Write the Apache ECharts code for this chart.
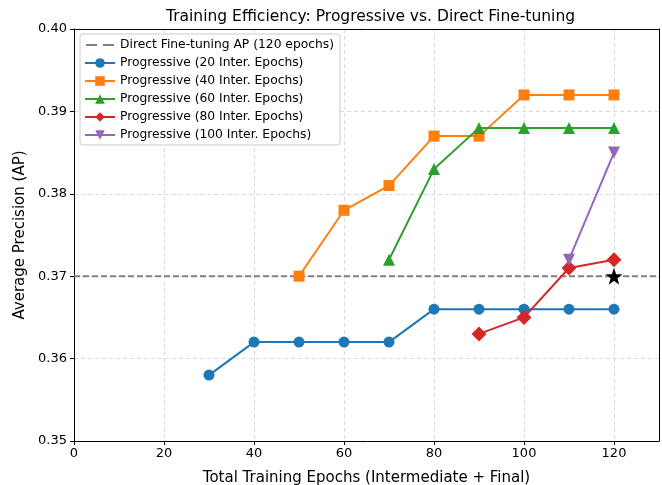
<!DOCTYPE html>
<html><head><meta charset="utf-8">
<script src="https://cdn.jsdelivr.net/npm/echarts@6/dist/echarts.min.js"></script>
<style>html,body{margin:0;padding:0;background:#fff}#c{width:662px;height:485px}</style>
</head><body><div id="c"></div>
<script>
const seriesNames = ['Progressive (20 Inter. Epochs)','Progressive (40 Inter. Epochs)','Progressive (60 Inter. Epochs)','Progressive (80 Inter. Epochs)','Progressive (100 Inter. Epochs)'];
const x20 = [30,40,50,60,70,80,90,100,110,120];
const y20 = [0.358,0.362,0.362,0.362,0.362,0.366,0.366,0.366,0.366,0.366];
const x40 = [50,60,70,80,90,100,110,120];
const y40 = [0.370,0.378,0.381,0.387,0.387,0.392,0.392,0.392];
const x60 = [70,80,90,100,110,120];
const y60 = [0.372,0.383,0.388,0.388,0.388,0.388];
const x80 = [90,100,110,120];
const y80 = [0.363,0.365,0.371,0.372];
const x100 = [110,120];
const y100 = [0.372,0.385];
const directName = 'Direct Fine-tuning AP (120 epochs)';
const directAP = 0.370;
const directX = [0,130];
const starPoint = [120,0.370];
const xTicks = [0,20,40,60,80,100,120];

const colors = ['#1f77b4','#ff7f0e','#2ca02c','#d62728','#9467bd'];
const symbols = ['circle','rect','triangle','diamond','triangle'];
const sizes = [11,11,12,15,12];
const rots = [0,0,0,0,180];
const xs=[x20,x40,x60,x80,x100], ys=[y20,y40,y60,y80,y100];
const font='DejaVu Sans';
const starPath='path://M50,0 L61.8,35.1 L97.6,34.5 L69.1,56.7 L79.4,90.5 L50,70 L20.6,90.5 L30.9,56.7 L2.4,34.5 L38.2,35.1 Z';
const dashIcon='path://M0,0 L0,0.01 L0.01,0 Z M30,12 L30,11.99 L29.99,12 Z M1,5 L12,5 L12,7 L1,7 Z M18,5 L29,5 L29,7 L18,7 Z';

const series=[{
  name: directName, type:'line', data: directX.map(x=>[x,directAP]), showSymbol:false, symbol:'none',
  lineStyle:{color:'#808080',width:2,type:[6,3]}, itemStyle:{color:'#808080'}, z:1, silent:true
}];
for(let i=0;i<5;i++){
  series.push({name:seriesNames[i],type:'line',data:xs[i].map((x,j)=>[x,ys[i][j]]),
    symbol:symbols[i],symbolSize:sizes[i],symbolRotate:rots[i],
    lineStyle:{color:colors[i],width:2},itemStyle:{color:colors[i]},z:3});
}
series.push({name:'star',type:'scatter',data:[starPoint],symbol:starPath,symbolSize:17,itemStyle:{color:'#000',opacity:1},z:5});

const frameAxis={axisLine:{show:true,onZero:false,lineStyle:{color:'#000',width:1}},axisTick:{show:false},axisLabel:{show:false},splitLine:{show:false}};
const chart=echarts.init(document.getElementById('c'),null,{renderer:'canvas'});
chart.setOption({
  animation:false,
  textStyle:{fontFamily:font},
  title:{text:'Training Efficiency: Progressive vs. Direct Fine-tuning',left:161,top:4,
    textStyle:{fontFamily:font,fontSize:15.5,fontWeight:'normal',color:'#000'}},
  grid:{left:74,right:3,top:29,bottom:44,outerBoundsMode:'none',containLabel:false,show:false},
  legend:{data:[{name:directName,icon:dashIcon,itemStyle:{color:'#808080'}}].concat(seriesNames),orient:'vertical',left:80,top:34,
    backgroundColor:'rgba(255,255,255,0.85)',borderColor:'#ccc',borderWidth:1,borderRadius:3,
    padding:[5,6,4,4],itemGap:6,itemWidth:30,itemHeight:12,
    textStyle:{fontFamily:font,fontSize:12.3,color:'#000'}},
  xAxis:[{type:'value',min:0,max:130,interval:20,
    name:'Total Training Epochs (Intermediate + Final)',nameLocation:'middle',nameGap:30,
    nameTextStyle:{fontFamily:font,fontSize:15,color:'#000'},
    axisLine:{show:true,onZero:false,lineStyle:{color:'#000'}},
    axisTick:{show:true,inside:false,length:4,lineStyle:{color:'#000'},customValues:xTicks},
    axisLabel:{color:'#000',fontSize:13,fontFamily:font,margin:6,
      customValues:xTicks},
    splitLine:{show:true,lineStyle:{color:'#d0d0d0',type:[4,3],width:0.8}}},
    Object.assign({type:'value',min:0,max:130,position:'top'},frameAxis)],
  yAxis:[{type:'value',min:0.35,max:0.40,interval:0.01,
    name:'Average Precision (AP)',nameLocation:'middle',nameGap:46,
    nameTextStyle:{fontFamily:font,fontSize:15,color:'#000'},
    axisLine:{show:true,onZero:false,lineStyle:{color:'#000'}},
    axisTick:{show:true,inside:false,length:4,lineStyle:{color:'#000'}},
    axisLabel:{color:'#000',fontSize:13,fontFamily:font,margin:7,formatter:v=>v.toFixed(2)},
    splitLine:{show:true,lineStyle:{color:'#d0d0d0',type:[4,3],width:0.8}}},
    Object.assign({type:'value',min:0.35,max:0.40,position:'right'},frameAxis)],
  series:series
});
</script></body></html>
